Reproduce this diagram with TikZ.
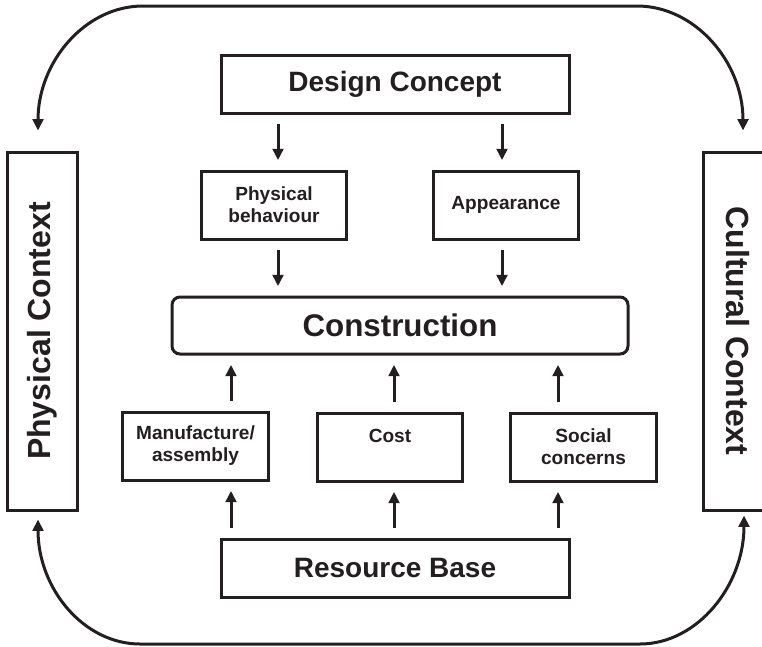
\documentclass[tikz,border=0pt]{standalone}
\usepackage{fontspec}
\setmainfont{Liberation Sans}
\usepackage{graphicx}
\usetikzlibrary{arrows.meta}

\definecolor{ink}{RGB}{35,31,32}

\tikzset{every picture/.style={line width=2.25pt, color=ink}}
\tikzset{
	box/.style={draw, fill=white, inner sep=0pt, align=center},
	bigbox/.style={box, minimum width=261pt, minimum height=43.5pt, font=\bfseries\fontsize{21}{25}\selectfont},
	smallbox/.style={box, minimum width=109pt, minimum height=51pt, font=\bfseries\fontsize{14.3}{16.5}\selectfont},
	sidebox/.style={box, minimum width=52.5pt, minimum height=268.5pt, font=\bfseries\fontsize{24}{28}\selectfont},
	flow/.style={-{Triangle[length=8.5pt,width=8pt]}, shorten >=7pt, shorten <=7pt},
	outerarc/.style={{Triangle[length=8.5pt,width=8pt]}-{Triangle[length=8.5pt,width=8pt]}}
}

\begin{document}
\begin{tikzpicture}[x=0.75pt,y=0.75pt,yscale=-1,xscale=1]
	\useasboundingbox (0,0) rectangle (762,646);

	%Shape: Rectangle [id:design]
	\node[bigbox] (design) at (395,84) {Design Concept};
	%Shape: Rectangle [id:physb]
	\node[smallbox] (physb) at (274,205) {Physical\\behaviour};
	%Shape: Rectangle [id:appear]
	\node[smallbox] (appear) at (506,205) {Appearance};
	%Shape: Rounded Rect [id:constr]
	\node[box, rounded corners=6pt, minimum width=342pt, minimum height=42.75pt, font=\bfseries\fontsize{23.5}{28}\selectfont] (constr) at (400,325.5) {Construction};
	%Shape: Rectangle [id:manuf]
	\node[smallbox] (manuf) at (195.5,446) {Manufacture/\\assembly};
	%Shape: Rectangle [id:cost]
	\node[smallbox] (cost) at (390,447) {Cost\\\mbox{}};
	%Shape: Rectangle [id:social]
	\node[smallbox] (social) at (583.5,447) {Social\\concerns};
	%Shape: Rectangle [id:resource]
	\node[bigbox] (resource) at (395,568) {Resource Base};
	%Shape: Rectangle [id:physctx]
	\node[sidebox] (physctx) at (42,331) {\rotatebox{90}{Physical Context}};
	%Shape: Rectangle [id:cultctx]
	\node[sidebox] (cultctx) at (738,331) {\rotatebox{-90}{Cultural Context}};

	% arrow columns
	\coordinate (colA) at (278,0);
	\coordinate (colB) at (502,0);
	\coordinate (colC) at (231,0);
	\coordinate (colD) at (394,0);
	\coordinate (colE) at (558,0);

	%Straight Lines [down into the two aspects]
	\draw[flow] (colA |- design.south) -- (colA |- physb.north);
	\draw[flow] (colB |- design.south) -- (colB |- appear.north);
	\draw[flow] (colA |- physb.south) -- (colA |- constr.north);
	\draw[flow] (colB |- appear.south) -- (colB |- constr.north);
	%Straight Lines [up into construction]
	\draw[flow] (colC |- manuf.north) -- (colC |- constr.south);
	\draw[flow] (colD |- cost.north) -- (colD |- constr.south);
	\draw[flow] (colE |- social.north) -- (colE |- constr.south);
	%Straight Lines [up from resource base]
	\draw[flow] (colC |- resource.north) -- (colC |- manuf.south);
	\draw[flow] (colD |- resource.north) -- (colD |- cost.south);
	\draw[flow] (colE |- resource.north) -- (colE |- social.south);

	%Curve Lines [top]
	\draw[outerarc, shorten <=15pt, shorten >=15pt] ([xshift=-3pt]physctx.north) .. controls (38,62) and (85,6) .. (143,6) -- (637,6) .. controls (695,6) and (743,62) .. ([xshift=3.75pt]cultctx.north);
	%Curve Lines [bottom]
	\draw[outerarc, shorten <=6pt, shorten >=3pt] ([xshift=-3pt]physctx.south) .. controls (38,589) and (84,644) .. (140,644) -- (640,644) .. controls (697,644) and (744,586) .. ([xshift=4.5pt]cultctx.south);

\end{tikzpicture}
\end{document}
